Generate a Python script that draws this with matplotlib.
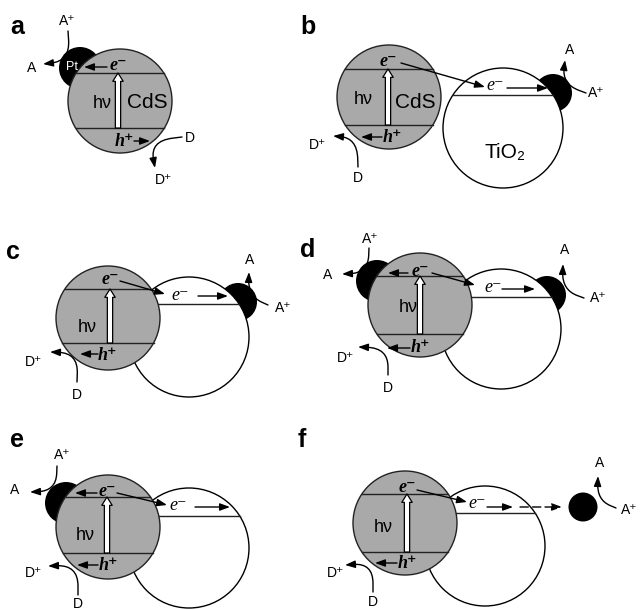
import numpy as np
import matplotlib.pyplot as plt
from matplotlib.patches import Circle, FancyArrowPatch
from matplotlib.path import Path

SANS = ['Liberation Sans', 'DejaVu Sans']
SERIF = ['Liberation Serif', 'DejaVu Serif']

# panel letters
panels = ['a', 'b', 'c', 'd', 'e', 'f']
panel_xy = [(17, 27), (308, 27), (13, 252), (308, 250), (17, 440), (302, 440)]

# CdS particle, band edges
cds_xy = [(120, 101), (389, 97), (108, 318), (420, 305), (108, 527), (405, 523)]
cds_r = 52
cb_y = [73, 69, 289, 276, 497, 494]
vb_y = [128, 125, 343, 334, 553, 552]

# TiO2 particle
tio2_xy = [None, (503, 128), (189, 337), (501, 329), (189, 548), (485, 546)]
tio2_r = 60
tio2_cb = [None, 95, 304, 297, 516, 513]

# Pt on CdS / Pt on TiO2 / free Pt
pt_cds = [(80, 68), None, None, (377, 281), (66, 503), None]
pt_tio2 = [None, (553, 93), (238, 302), (547, 295), None, None]
pt_free = [None, None, None, None, None, (583, 507)]

# carrier labels
e_cds = [(118, 66), (388, 62), (110, 280), (420, 271), (107, 491), (407, 488)]
h_cds = [(124, 141), (392, 137), (107, 355), (420, 348), (108, 565), (407, 563)]
hv_xy = [(102, 103), (363, 100), (87, 328), (408, 308), (85, 535), (383, 527)]
e_tio2 = [None, (495, 86), (180, 295), (493, 287), (178, 506), (477, 503)]

species = [
    (67, 21, 'A⁺'), (32, 68, 'A'), (190, 138, 'D'), (163, 180, 'D⁺'),
    (318, 145, 'D⁺'), (358, 178, 'D'), (570, 50, 'A'), (596, 93, 'A⁺'),
    (250, 260, 'A'), (283, 308, 'A⁺'), (33, 362, 'D⁺'), (77, 395, 'D'),
    (370, 239, 'A⁺'), (328, 275, 'A'), (565, 250, 'A'), (598, 298, 'A⁺'),
    (345, 358, 'D⁺'), (388, 388, 'D'),
    (62, 455, 'A⁺'), (15, 490, 'A'), (33, 573, 'D⁺'), (78, 604, 'D'),
    (600, 463, 'A'), (629, 510, 'A⁺'), (335, 573, 'D⁺'), (373, 602, 'D'),
]

straight = [
    (107, 67, 84, 67), (134, 141, 150, 141),
    (382, 137, 361, 137), (401, 63, 485, 87), (507, 88, 548, 88),
    (120, 281, 165, 294), (198, 296, 228, 296), (98, 354, 80, 354),
    (408, 273, 388, 273), (432, 273, 475, 285), (502, 289, 535, 289), (410, 348, 387, 348),
    (97, 493, 75, 493), (117, 493, 167, 505), (195, 507, 230, 507), (98, 565, 77, 565),
    (417, 490, 467, 502), (487, 507, 513, 507), (397, 563, 375, 563),
]
dashed = [(520, 507, 562, 507)]

# redox hooks: start, bend, arrow tip
hooks = [
    ((68, 31), (70, 61), (43, 64)), ((182, 137), (150, 141), (155, 168)),
    ((358, 167), (357, 138), (333, 136)), ((586, 93), (562, 84), (565, 60)),
    ((268, 305), (248, 296), (249, 272)), ((77, 382), (78, 353), (50, 352)),
    ((369, 248), (368, 273), (342, 274)), ((584, 298), (562, 290), (563, 264)),
    ((388, 375), (388, 348), (358, 347)),
    ((57, 466), (56, 491), (30, 492)), ((78, 595), (78, 565), (48, 566)),
    ((616, 508), (597, 500), (598, 476)), ((373, 592), (373, 563), (345, 565)),
]

fig = plt.figure(figsize=(6.4, 6.1), dpi=100)
ax = fig.add_axes([0, 0, 1, 1])
ax.set_xlim(0, 640)
ax.set_ylim(610, 0)
ax.axis('off')

HEAD = '-|>,head_length=0.6,head_width=0.22'


def chord(cx, cy, r, y, z):
    dx = np.sqrt(max(r**2 - (y - cy)**2, 0))
    ax.plot([cx - dx, cx + dx], [y, y], color='#222', lw=1.0, zorder=z)


def arrow(x0, y0, x1, y1, ls='-'):
    ax.add_patch(FancyArrowPatch((x0, y0), (x1, y1), arrowstyle=HEAD, mutation_scale=10,
                                 lw=1.0, color='k', linestyle=ls, shrinkA=0, shrinkB=0, zorder=8))


for i in range(6):
    ax.text(*panel_xy[i], panels[i], fontsize=18, fontweight='bold', family=SANS,
            ha='center', va='center')
    cx, cy = cds_xy[i]
    if tio2_xy[i] is not None:
        tx, ty = tio2_xy[i]
        ax.add_patch(Circle((tx, ty), tio2_r, fc='white', ec='k', lw=1.0, zorder=2))
        chord(tx, ty, tio2_r, tio2_cb[i], 3)
    if pt_tio2[i] is not None:
        ax.add_patch(Circle(pt_tio2[i], 19, fc='k', ec='none', zorder=1))
    if pt_cds[i] is not None:
        ax.add_patch(Circle(pt_cds[i], 21, fc='k', ec='none', zorder=4))
    if pt_free[i] is not None:
        ax.add_patch(Circle(pt_free[i], 14.5, fc='k', ec='none', zorder=4))
    ax.add_patch(Circle((cx, cy), cds_r, fc='#a9a9a9', ec='#222', lw=1.0, zorder=5))
    chord(cx, cy, cds_r, cb_y[i], 6)
    chord(cx, cy, cds_r, vb_y[i], 6)

    # photo-excitation arrow
    ax.add_patch(FancyArrowPatch((e_cds[i][0], vb_y[i]), (e_cds[i][0], cb_y[i]),
                                 arrowstyle='simple,head_length=0.6,head_width=0.75,tail_width=0.38',
                                 mutation_scale=10, fc='white', ec='k', lw=0.9,
                                 shrinkA=0, shrinkB=0, zorder=7))
    ax.text(*e_cds[i], 'e⁻', fontsize=13, family=SERIF, style='italic', fontweight='bold',
            ha='center', va='center', zorder=9)
    ax.text(*h_cds[i], 'h⁺', fontsize=13, family=SERIF, style='italic', fontweight='bold',
            ha='center', va='center', zorder=9)
    ax.text(*hv_xy[i], 'hν', fontsize=13, family=SANS, ha='center', va='center', zorder=9)
    if e_tio2[i] is not None:
        ax.text(*e_tio2[i], 'e⁻', fontsize=13, family=SERIF, style='italic',
                ha='center', va='center', zorder=9)

ax.text(147, 103, 'CdS', fontsize=15, family=SANS, ha='center', va='center', zorder=9)
ax.text(415, 102, 'CdS', fontsize=15, family=SANS, ha='center', va='center', zorder=9)
ax.text(505, 153, 'TiO₂', fontsize=15, family=SANS, ha='center', va='center', zorder=9)
ax.text(72, 67, 'Pt', fontsize=9, family=SANS, color='white', ha='center', va='center', zorder=9)

for x, y, s in species:
    ax.text(x, y, s, fontsize=10, family=SANS, ha='center', va='center', zorder=9)

for x0, y0, x1, y1 in straight:
    arrow(x0, y0, x1, y1)
for x0, y0, x1, y1 in dashed:
    arrow(x0, y0, x1, y1, ls=(0, (6, 3)))

for p0, c, p1 in hooks:
    p0, c, p1 = np.array(p0, float), np.array(c, float), np.array(p1, float)
    q1 = c + 0.7 * (p0 - c)
    q2 = c + 0.7 * (p1 - c)
    path = Path([p0, q1, c, q2, p1],
                [Path.MOVETO, Path.LINETO, Path.CURVE3, Path.CURVE3, Path.LINETO])
    ax.add_patch(FancyArrowPatch(path=path, arrowstyle=HEAD, mutation_scale=10,
                                 lw=1.0, color='k', zorder=8))

fig.savefig('out.png', dpi=100)
